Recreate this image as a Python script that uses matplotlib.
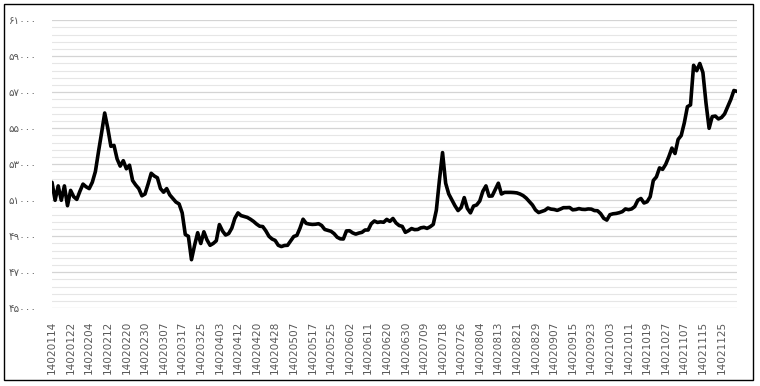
import numpy as np
import matplotlib
matplotlib.use("Agg")
import matplotlib.pyplot as plt
from matplotlib.patches import Rectangle

# Category tick labels (every 6th trading day)
tick_labels = [
    "14020114", "14020122", "14020204", "14020212", "14020220", "14020230",
    "14020307", "14020317", "14020325", "14020403", "14020412", "14020420",
    "14020428", "14020507", "14020517", "14020525", "14020602", "14020611",
    "14020620", "14020630", "14020709", "14020718", "14020726", "14020804",
    "14020813", "14020821", "14020829", "14020907", "14020915", "14020923",
    "14021003", "14021011", "14021019", "14021027", "14021107", "14021115",
    "14021125",
]
label_step = 6

# Price series
values = [
    52000, 51000, 51800, 51000, 51800, 50700, 51550, 51200, 51050, 51500,
    51900, 51750, 51650, 52000, 52600, 53700, 54750, 55850, 55000, 54000,
    54050, 53300, 52900, 53200, 52750, 52950, 52100, 51850, 51650, 51250,
    51350, 51900, 52500, 52350, 52250, 51650, 51450, 51650, 51300, 51100,
    50900, 50800, 50300, 49100, 49000, 47700, 48500, 49200, 48600, 49250,
    48800, 48500, 48600, 48750, 49650, 49300, 49070, 49150, 49450, 50000,
    50300, 50150, 50100, 50050, 49950, 49830, 49680, 49560, 49540, 49300,
    49000, 48850, 48770, 48500, 48430, 48490, 48500, 48750, 48990, 49050,
    49450, 49950, 49720, 49680, 49660, 49670, 49700, 49600, 49380, 49330,
    49280, 49150, 48950, 48860, 48850, 49300, 49310, 49190, 49120, 49180,
    49220, 49350, 49350, 49700, 49850, 49770, 49800, 49780, 49940, 49830,
    49990, 49740, 49600, 49550, 49220, 49310, 49430, 49370, 49380, 49470,
    49500, 49440, 49530, 49660, 50450, 52130, 53650, 51950, 51350, 51020,
    50700, 50430, 50600, 51150, 50550, 50300, 50680, 50740, 50960, 51500,
    51800, 51230, 51240, 51600, 51950, 51350, 51440, 51440, 51440, 51430,
    51410, 51350, 51260, 51120, 50930, 50740, 50460, 50320, 50380, 50440,
    50570, 50510, 50490, 50440, 50510, 50590, 50590, 50600, 50470, 50490,
    50540, 50500, 50490, 50520, 50510, 50430, 50420, 50260, 50000, 49900,
    50200, 50250, 50270, 50310, 50370, 50520, 50480, 50520, 50650, 51000,
    51100, 50850, 50920, 51200, 52100, 52300, 52800, 52720, 53000, 53420,
    53900, 53600, 54380, 54600, 55300, 56200, 56300, 58500, 58200, 58600,
    58100, 56400, 55000, 55650, 55680, 55520, 55600, 55800, 56200, 56600,
    57100, 57050,
]

# Y-axis tick values and Persian-digit labels
y_ticks = [45000, 47000, 49000, 51000, 53000, 55000, 57000, 59000, 61000]
y_labels = ["۴۵۰۰۰", "۴۷۰۰۰", "۴۹۰۰۰", "۵۱۰۰۰", "۵۳۰۰۰",
            "۵۵۰۰۰", "۵۷۰۰۰", "۵۹۰۰۰", "۶۱۰۰۰"]
minor_step = 400

fig = plt.figure(figsize=(7.6, 3.86), dpi=100)
W, H = 760, 386
ax = fig.add_axes([52 / W, (H - 308.3) / H, (737 - 52) / W, (308.3 - 20.3) / H])

x = np.arange(len(values))
ax.plot(x, values, color="black", linewidth=2.6, solid_joinstyle="round",
        solid_capstyle="round", zorder=3)

ax.set_xlim(0, len(values) - 1)
ax.set_ylim(y_ticks[0], y_ticks[-1])

# gridlines
for gv in np.arange(y_ticks[0], y_ticks[-1] + 1, minor_step):
    if gv in y_ticks:
        ax.axhline(gv, color="#d4d4d4", linewidth=0.9, zorder=1)
    else:
        ax.axhline(gv, color="#e6e6e6", linewidth=0.8, zorder=1)

ax.set_yticks(y_ticks)
ax.set_yticklabels(y_labels, fontsize=7.5, color="#595959", family=["DejaVu Sans"])
tick_pos = x[::label_step][:len(tick_labels)]
ax.set_xticks(tick_pos)
ax.set_xticklabels(tick_labels, rotation=90, fontsize=7.6, color="#595959",
                   family=["DejaVu Sans"])
ax.tick_params(axis="both", length=0)
ax.tick_params(axis="x", pad=9)
ax.tick_params(axis="y", pad=11)
for s in ax.spines.values():
    s.set_visible(False)

# outer frame
fig.patches.append(Rectangle((4 / W, (H - 380) / H), (753 - 4) / W, (380 - 4) / H,
                             transform=fig.transFigure, fill=False,
                             edgecolor="black", linewidth=1.0))

fig.savefig("out.png", dpi=100)
